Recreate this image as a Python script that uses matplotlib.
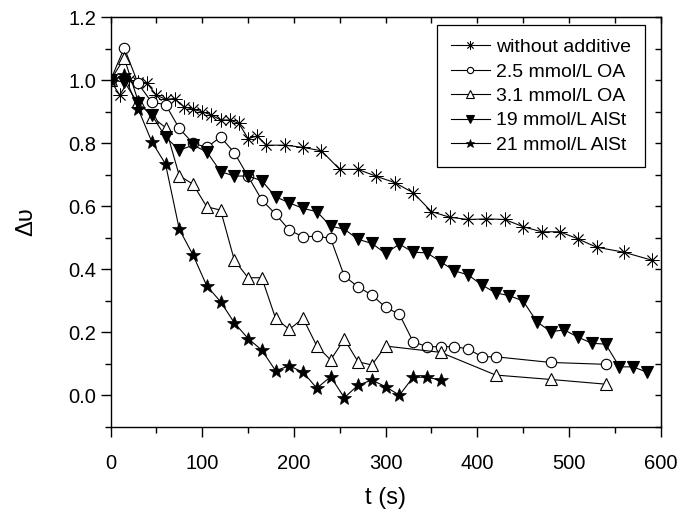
import matplotlib
matplotlib.use("Agg")
import matplotlib.pyplot as plt
from matplotlib.ticker import MultipleLocator, FixedLocator

plt.rcParams['font.family'] = ['Liberation Sans', 'DejaVu Sans']

# without additive
t_none = [0, 10, 20, 30, 40, 50, 60, 70, 80, 90, 100, 110, 120, 130, 140, 150, 160,
          170, 190, 210, 230, 250, 270, 290, 310, 330, 350, 370, 390, 410, 430, 450,
          470, 490, 510, 530, 560, 590]
v_none = [1.0, 0.953, 1.0, 0.995, 0.99, 0.953, 0.94, 0.942, 0.916, 0.908, 0.9, 0.89,
          0.874, 0.874, 0.863, 0.815, 0.823, 0.794, 0.794, 0.787, 0.776, 0.717, 0.717,
          0.695, 0.675, 0.643, 0.583, 0.565, 0.558, 0.56, 0.558, 0.535, 0.519, 0.519,
          0.496, 0.47, 0.454, 0.429]

# 2.5 mmol/L OA
t_oa25 = [0, 15, 30, 45, 60, 75, 90, 105, 120, 135, 150, 165, 180, 195, 210, 225, 240,
          255, 270, 285, 300, 315, 330, 345, 360, 375, 390, 405, 420, 480, 540]
v_oa25 = [1.0, 1.103, 0.99, 0.93, 0.923, 0.847, 0.80, 0.787, 0.82, 0.77, 0.695, 0.62,
          0.575, 0.524, 0.503, 0.505, 0.498, 0.378, 0.344, 0.318, 0.279, 0.257, 0.17,
          0.154, 0.154, 0.154, 0.147, 0.122, 0.122, 0.104, 0.098]

# 3.1 mmol/L OA
t_oa31 = [0, 15, 30, 45, 60, 75, 90, 105, 120, 135, 150, 165, 180, 195, 210, 225, 240,
          255, 270, 285, 300, 360, 420, 480, 540]
v_oa31 = [1.0, 1.07, 0.935, 0.884, 0.85, 0.697, 0.67, 0.598, 0.588, 0.429, 0.373, 0.373,
          0.244, 0.209, 0.244, 0.156, 0.112, 0.178, 0.106, 0.096, 0.156, 0.136, 0.064,
          0.05, 0.035]

# 19 mmol/L AlSt
t_al19 = [0, 15, 30, 45, 60, 75, 90, 105, 120, 135, 150, 165, 180, 195, 210, 225, 240,
          255, 270, 285, 300, 315, 330, 345, 360, 375, 390, 405, 420, 435, 450, 465,
          480, 495, 510, 525, 540, 555, 570, 585]
v_al19 = [1.0, 0.995, 0.927, 0.89, 0.82, 0.778, 0.794, 0.773, 0.71, 0.696, 0.696, 0.681,
          0.63, 0.611, 0.593, 0.583, 0.537, 0.527, 0.495, 0.482, 0.45, 0.48, 0.454,
          0.452, 0.424, 0.395, 0.382, 0.35, 0.325, 0.316, 0.299, 0.233, 0.202, 0.207,
          0.184, 0.165, 0.162, 0.09, 0.09, 0.073]

# 21 mmol/L AlSt
t_al21 = [0, 15, 30, 45, 60, 75, 90, 105, 120, 135, 150, 165, 180, 195, 210, 225, 240,
          255, 270, 285, 300, 315, 330, 345, 360]
v_al21 = [1.0, 1.016, 0.91, 0.805, 0.734, 0.527, 0.445, 0.347, 0.297, 0.23, 0.18, 0.143,
          0.078, 0.093, 0.073, 0.022, 0.059, -0.008, 0.032, 0.048, 0.027, 0.0, 0.057,
          0.057, 0.048]

labels = ['without additive', '2.5 mmol/L OA', '3.1 mmol/L OA',
          '19 mmol/L AlSt', '21 mmol/L AlSt']

fig = plt.figure(figsize=(6.81, 5.11), dpi=100)
ax = fig.add_axes([0.1623, 0.165, 0.8079, 0.8011])

lw = 0.8
ax.plot(t_none, v_none, color='black', lw=lw, marker=(8, 2, 0), ms=10,
        mew=0.6, label=labels[0])
ax.plot(t_oa25, v_oa25, color='black', lw=lw, marker='o', ms=7.5, mfc='white',
        mew=0.8, label=labels[1])
ax.plot(t_oa31, v_oa31, color='black', lw=lw, marker='^', ms=8.5, mfc='white',
        mew=0.8, label=labels[2])
ax.plot(t_al19, v_al19, color='black', lw=lw, marker='v', ms=8.5, mfc='black',
        mew=0.8, label=labels[3])
ax.plot(t_al21, v_al21, color='black', lw=lw, marker='*', ms=10.5, mfc='black',
        mew=0.5, label=labels[4])

ax.set_xlim(0, 600)
ax.set_ylim(-0.1, 1.2)
ax.xaxis.set_major_locator(MultipleLocator(100))
ax.xaxis.set_minor_locator(MultipleLocator(50))
ax.yaxis.set_major_locator(FixedLocator([0.0, 0.2, 0.4, 0.6, 0.8, 1.0, 1.2]))
ax.yaxis.set_minor_locator(FixedLocator([-0.1, 0.1, 0.3, 0.5, 0.7, 0.9, 1.1]))
ax.set_yticklabels(['0.0', '0.2', '0.4', '0.6', '0.8', '1.0', '1.2'])

ax.tick_params(which='both', direction='out', labelsize=14.5, width=1,
               top=False, right=False)
ax.tick_params(which='major', length=7)
ax.tick_params(which='minor', length=4)
ax.tick_params(axis='x', which='major', pad=13)
for s in ax.spines.values():
    s.set_linewidth(1)

top = ax.secondary_xaxis('top')
top.xaxis.set_major_locator(MultipleLocator(50))
top.tick_params(direction='in', length=4, width=1, labeltop=False)
right = ax.secondary_yaxis('right')
right.yaxis.set_major_locator(MultipleLocator(0.1))
right.tick_params(direction='in', length=4, width=1, labelright=False)

ax.set_xlabel('t (s)', fontsize=17, labelpad=10)
ax.set_ylabel('Δυ', fontsize=17, labelpad=22)

leg = ax.legend(loc='upper right', bbox_to_anchor=(645 / 681, 1 - 25 / 511),
                bbox_transform=fig.transFigure, borderaxespad=0, fontsize=14,
                frameon=True, fancybox=False, edgecolor='black', framealpha=1,
                handlelength=2.0, handletextpad=0.35, labelspacing=0.35,
                markerscale=0.6, borderpad=0.7)
leg.get_frame().set_linewidth(0.9)

fig.savefig('out.png', dpi=100)
